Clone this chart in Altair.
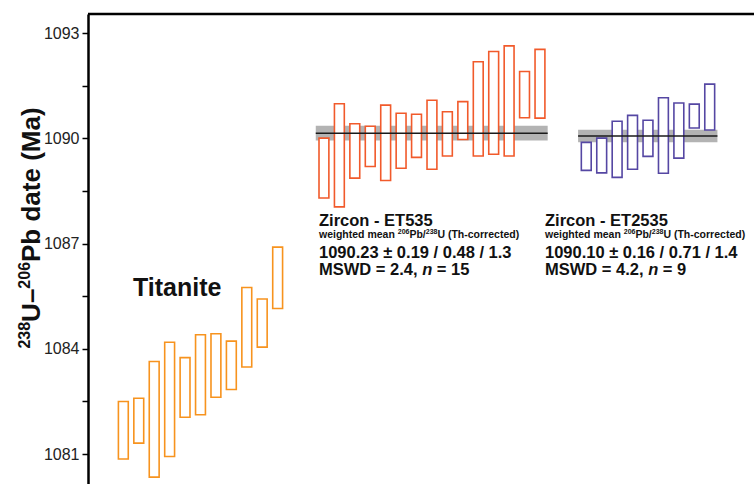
import altair as alt
import pandas as pd

# ---- data ----
titanite_hi = [1082.50, 1082.59, 1083.64, 1084.19, 1083.75, 1084.40, 1084.43, 1084.22, 1085.75, 1085.42, 1086.90]
titanite_lo = [1080.86, 1081.31, 1080.34, 1080.93, 1082.05, 1082.12, 1082.62, 1082.84, 1083.48, 1084.05, 1085.15]

et535_hi = [1090.01, 1090.99, 1090.42, 1090.35, 1090.95, 1090.72, 1090.69, 1091.09, 1090.76, 1091.05,
            1092.19, 1092.48, 1092.64, 1091.91, 1092.54]
et535_lo = [1088.30, 1088.05, 1088.87, 1089.20, 1088.80, 1089.15, 1089.46, 1089.12, 1089.50, 1089.97,
            1089.50, 1089.55, 1089.50, 1090.59, 1090.58]

et2535_hi = [1089.89, 1090.01, 1090.49, 1090.66, 1090.52, 1091.16, 1091.01, 1090.98, 1091.55]
et2535_lo = [1089.09, 1089.02, 1088.89, 1089.12, 1089.49, 1089.01, 1089.44, 1090.30, 1090.24]

groups = ["Titanite", "ET535", "ET2535"]
group_start = [0, 13, 30]
group_colors = ["#F7931E", "#F15A2B", "#5547A3"]

mean_groups = ["ET535", "ET2535"]
mean_values = [1090.15, 1090.07]
mean_half = [0.21, 0.18]

y_ticks = [1081, 1082.5, 1084, 1085.5, 1087, 1088.5, 1090, 1091.5, 1093]

# ---- tables ----
rows = []
for g, s, los, his in zip(groups, group_start, [titanite_lo, et535_lo, et2535_lo], [titanite_hi, et535_hi, et2535_hi]):
    for k, (lo, hi) in enumerate(zip(los, his)):
        rows.append({"group": g, "pos": s + k, "lo": lo, "hi": hi})
boxes = pd.DataFrame(rows)

band_rows = []
for g, m, h in zip(mean_groups, mean_values, mean_half):
    sub = boxes[boxes.group == g]
    band_rows.append({"group": g, "start": sub.pos.min(), "end": sub.pos.max(), "mean": m, "half": h})
bands = pd.DataFrame(band_rows)

FONT = "Liberation Sans"
W, H = 666, 470
xscale = alt.Scale(domain=[-2.29, 40.87], nice=False, zero=False)
yscale = alt.Scale(domain=[1080.145, 1093.55], nice=False, zero=False)
yaxis = alt.Axis(
    values=y_ticks, format="d",
    labelExpr="(datum.value - 1081) % 3 == 0 ? datum.label : ''",
    title=None,
    labelFont=FONT, labelFontSize=16, labelColor="#222", labelPadding=3,
    tickSize=6, tickWidth=1.5, tickColor="#000",
    domainColor="#000", domainWidth=2.5, grid=False,
)

band = alt.Chart(bands).transform_calculate(
    x0="datum.start - 0.53", x1="datum.end + 0.5",
    y0="datum.mean - datum.half", y1="datum.mean + datum.half",
).mark_rect(color="#B3B3B3").encode(
    x=alt.X("x0:Q", scale=xscale, axis=None),
    x2="x1:Q",
    y=alt.Y("y0:Q", scale=yscale, axis=yaxis),
    y2="y1:Q",
)

box = alt.Chart(boxes).transform_calculate(
    x0="datum.pos - 0.32", x1="datum.pos + 0.32",
).mark_rect(fill="white", strokeWidth=1.6).encode(
    x=alt.X("x0:Q", scale=xscale, axis=None),
    x2="x1:Q",
    y=alt.Y("lo:Q", scale=yscale, axis=yaxis),
    y2="hi:Q",
    stroke=alt.Stroke("group:N", scale=alt.Scale(domain=groups, range=group_colors), legend=None),
)

mline = alt.Chart(bands).transform_calculate(
    x0="datum.start - 0.53", x1="datum.end + 0.5",
).mark_rule(color="#1a1a1a", strokeWidth=1.6).encode(
    x=alt.X("x0:Q", scale=xscale, axis=None),
    x2="x1:Q",
    y=alt.Y("mean:Q", scale=yscale, axis=yaxis),
)

one = pd.DataFrame({"a": [0]})

# approximate advance widths of Liberation Sans Bold (em units)
ADV = {" ": .278, ".": .278, ",": .278, "=": .584, "-": .333, "–": .556, "(": .333, ")": .333,
       "/": .278, "±": .549, "M": .833, "S": .667, "W": .944, "D": .722, "U": .722, "P": .667,
       "T": .611, "Z": .611, "E": .667, "a": .556, "b": .611, "c": .556, "d": .611, "e": .556,
       "g": .611, "h": .611, "i": .278, "m": .889, "n": .611, "o": .611, "r": .389, "t": .333,
       "w": .778}


def tw(s, size):
    return sum(ADV.get(ch, .556) for ch in s) * size


def txt(s, x, y, size, weight="bold", style="normal", align="left", angle=0):
    kw = dict(text=s, font=FONT, fontSize=size, fontWeight=weight, fontStyle=style,
              align=align, baseline="alphabetic", color="#111")
    if angle:
        kw["angle"] = angle
    return alt.Chart(one).mark_text(**kw).encode(x=alt.value(x), y=alt.value(y))


def runs(pieces, x, y):
    """pieces: list of (text, size, raise, style) laid out left to right."""
    out = []
    for s, size, rise, style in pieces:
        lead = len(s) - len(s.lstrip(" "))
        out.append(txt(s.strip(" "), x + lead * ADV[" "] * size, y - rise, size, style=style))
        x += tw(s, size)
    return out


ox, oy = 88, 14
texts = [txt("Titanite", 133 - ox, 296 - oy, 25)]

BIG, SMALL, SUP = 16.5, 10.5, 7
for x0, head, vals, mswd, n in [(319, "Zircon - ET535", "1090.23 ± 0.19 / 0.48 / 1.3", "2.4", "15"),
                                (545, "Zircon - ET2535", "1090.10 ± 0.16 / 0.71 / 1.4", "4.2", "9")]:
    x = x0 - ox
    texts.append(txt(head, x, 226 - oy, BIG))
    texts += runs([("weighted mean ", SMALL, 0, "normal"), ("206", SUP, 3.8, "normal"),
                   ("Pb/", SMALL, 0, "normal"), ("238", SUP, 3.8, "normal"),
                   ("U (Th-corrected)", SMALL, 0, "normal")], x, 237.5 - oy)
    texts.append(txt(vals, x, 258 - oy, BIG))
    texts += runs([("MSWD = " + mswd + ", ", BIG, 0, "normal"), ("n", BIG, 0, "italic"),
                   (" = " + n, BIG, 0, "normal")], x, 275 - oy)

# rotated y-axis title built from runs (superscripts as smaller text)
TB, TS = 26, 16
title_pieces = [("238", TS, 10.5), ("U–", TB, 0), ("206", TS, 10.5), ("Pb date (Ma)", TB, 0)]
total = sum(tw(s, sz) for s, sz, _ in title_pieces)
ycur = 228 - oy + total / 2
base_x = 40 - ox
for s, sz, rise in title_pieces:
    texts.append(txt(s, base_x - rise, ycur, sz, angle=270))
    ycur -= tw(s, sz)

top_rule = alt.Chart(one).mark_rule(color="#000", strokeWidth=2.6).encode(
    x=alt.value(0), x2=alt.value(W), y=alt.value(0)
)

chart = alt.layer(band, box, mline, top_rule, *texts).properties(
    width=W, height=H,
    autosize=alt.AutoSizeParams(type="none"),
    padding={"left": ox, "top": oy, "right": 0, "bottom": 0},
).configure_view(stroke=None).configure(font=FONT, background="white")

chart.save("out.html", embed_options={"renderer": "svg", "actions": False})
